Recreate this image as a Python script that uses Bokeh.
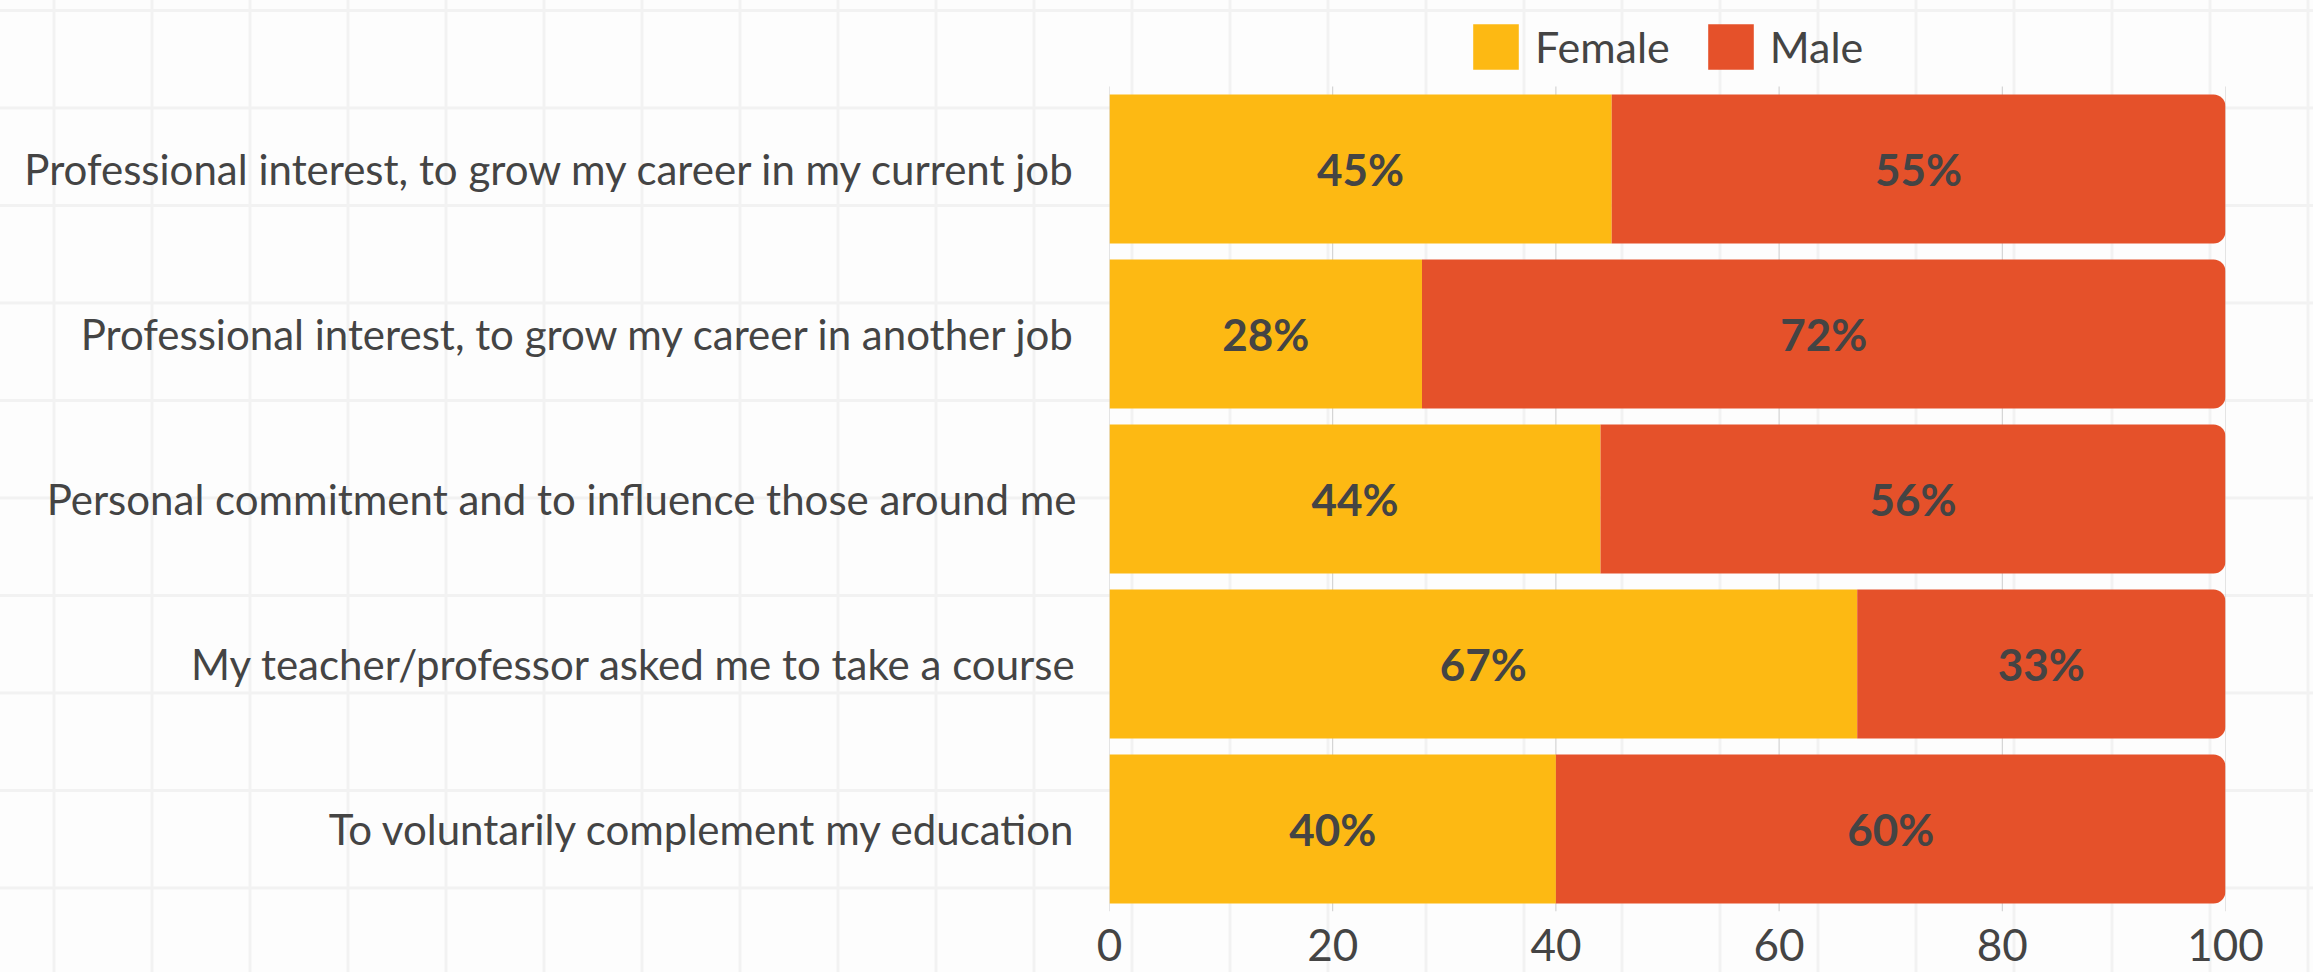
from bokeh.plotting import figure
from bokeh.models import (ColumnDataSource, LabelSet, Legend, LegendItem,
                          Range1d, FixedTicker)
from bokeh.embed import file_html
from bokeh.resources import INLINE
from bokeh.core.properties import value

# ---------------- data ----------------
categories = [
    "Professional interest, to grow my career in my current job",
    "Professional interest, to grow my career in another job",
    "Personal commitment and to influence those around me",
    "My teacher/professor asked me to take a course",
    "To voluntarily complement my education",
]
female = [45, 28, 44, 67, 40]
male = [55, 72, 56, 33, 60]
series = ["Female", "Male"]
colors = ["#FDB913", "#E5512A"]
x_ticks = [0, 20, 40, 60, 80, 100]

FONT = "Lato"
TXT = "#444444"

n = len(categories)
ypos = [n - 1 - i for i in range(n)]          # first category on top
totals = [f + m for f, m in zip(female, male)]
source = ColumnDataSource(dict(
    y=ypos,
    f_left=[0] * n,
    f_right=female,
    m_left=female,
    m_right=totals,
    f_mid=[f / 2 for f in female],
    m_mid=[f + m / 2 for f, m in zip(female, male)],
    f_lab=[f"{f}%" for f in female],
    m_lab=[f"{m}%" for m in male],
))

# frame spans from the top of the figure down to the x axis;
# extra room above the first row holds the legend
top_room = 168.5 / 165.0
p = figure(
    width=2313, height=972,
    y_range=Range1d(-0.5, (n - 1) + top_room),
    x_range=Range1d(0, 100),
    output_backend="svg", toolbar_location=None, title=None,
    min_border_left=1109, min_border_right=88,
    min_border_top=0, min_border_bottom=61,
)
p.styles = {
    "background-color": "#fdfdfd",
    "background-image": "linear-gradient(#f2f2f2 3px, transparent 3px), "
                        "linear-gradient(90deg, #f2f2f2 3px, transparent 3px)",
    "background-size": "98px 97.5px",
    "background-position": "52.5px 9px",
}
p.background_fill_color = None
p.border_fill_color = None
p.outline_line_color = None

# vertical value grid limited to the rows
p.segment(x0=x_ticks, x1=x_ticks, y0=-0.5, y1=n - 0.5,
          line_color="#cccccc", line_width=1)

r_f = p.hbar(y="y", left="f_left", right="f_right", height=0.903,
             fill_color=colors[0], line_color=None, source=source)
r_m = p.hbar(y="y", left="m_left", right="m_right", height=0.903,
             fill_color=colors[1], line_color=None, source=source,
             border_radius=(0, 12, 12, 0))

for xcol, tcol in (("f_mid", "f_lab"), ("m_mid", "m_lab")):
    p.add_layout(LabelSet(
        x=xcol, y="y", text=tcol, source=source,
        text_align="center", text_baseline="middle",
        text_font=value(FONT), text_font_style="bold",
        text_font_size="44px", text_color=TXT))

legend = Legend(
    items=[LegendItem(label=series[0], renderers=[r_f]),
           LegendItem(label=series[1], renderers=[r_m])],
    orientation="horizontal", location=(358, 836),
    glyph_width=57, glyph_height=57, label_standoff=11, spacing=32,
    padding=0, margin=0, border_line_color=None, background_fill_alpha=0,
    label_text_font=FONT, label_text_font_size="43px", label_text_color=TXT,
)
p.add_layout(legend, "center")

p.xaxis.ticker = FixedTicker(ticks=x_ticks)
p.xaxis.axis_line_color = None
p.xaxis.major_tick_line_color = None
p.xaxis.minor_tick_line_color = None
p.xaxis.major_label_standoff = 11
p.xaxis.major_label_text_font = FONT
p.xaxis.major_label_text_font_size = "44px"
p.xaxis.major_label_text_color = TXT

p.yaxis.ticker = FixedTicker(ticks=ypos)
p.yaxis.major_label_overrides = {y: c for y, c in zip(ypos, categories)}
p.yaxis.axis_line_color = None
p.yaxis.major_tick_line_color = None
p.yaxis.minor_tick_line_color = None
p.yaxis.major_label_standoff = 27
p.yaxis.major_label_text_font = FONT
p.yaxis.major_label_text_font_size = "42px"
p.yaxis.major_label_text_color = TXT

p.xgrid.grid_line_color = None
p.ygrid.grid_line_color = None

open("out.html", "w").write(file_html(p, INLINE))
